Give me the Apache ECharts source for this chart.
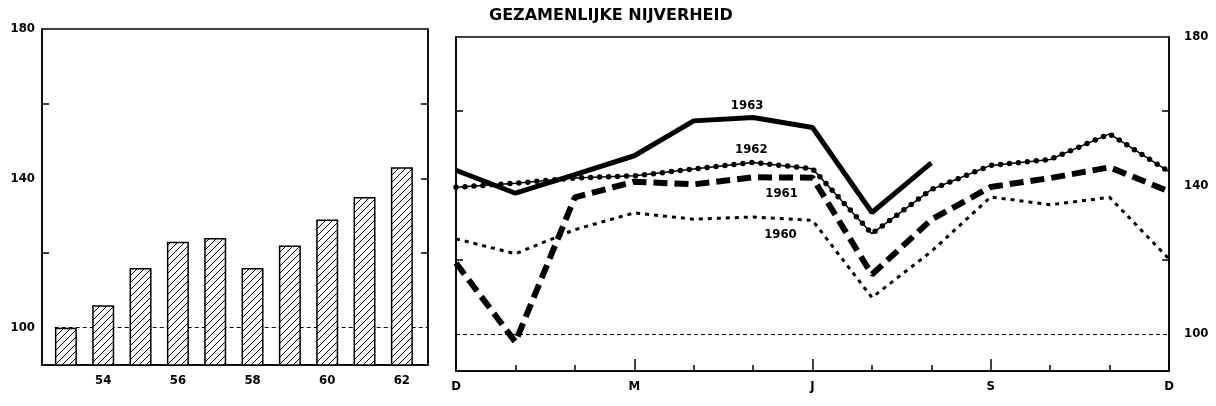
<!DOCTYPE html>
<html>
<head>
<meta charset="utf-8">
<script src="https://cdn.jsdelivr.net/npm/echarts@6/dist/echarts.min.js"></script>
<style>
html, body { margin: 0; background: #fff; }
#chart { width: 1216px; height: 406px; }
</style>
</head>
<body>
<div id="chart"></div>
<script>
// jaarindex (1953 = 100)
const years = [53, 54, 55, 56, 57, 58, 59, 60, 61, 62]
const yearIndex = [100, 106, 116, 123, 124, 116, 122, 129, 135, 143]
const yearTicks = [54, 56, 58, 60, 62]

// maandindex, december vorig jaar t/m december
const months = [0, 1, 2, 3, 4, 5, 6, 7, 8, 9, 10, 11, 12]
const monthTicks = ['D', '', '', 'M', '', '', 'J', '', '', 'S', '', '', 'D']
const s1960 = [125.6, 121.6, 128.1, 132.6, 130.9, 131.5, 130.6, 109.8, 122.2, 136.9, 134.8, 136.8, 120.2]
const s1961 = [119.1, 97.8, 136.8, 141.0, 140.3, 142.2, 142.1, 116.0, 130.8, 139.6, 142.0, 144.9, 138.4]
const s1962 = [139.5, 140.6, 142.0, 142.6, 144.4, 146.2, 144.5, 127.0, 138.9, 145.4, 147.0, 153.9, 143.7]
const s1963 = [144.1, 137.9, 142.9, 148.0, 157.4, 158.3, 155.6, 132.7, 146.1]

const indexTicks = [100, 140, 180]
const minorIndexTicks = [120, 160]

const font = 'DejaVu Sans Condensed'
const black = '#000'

// arcering voor de staven
function hatch() {
  const c = document.createElement('canvas')
  c.width = 7
  c.height = 7
  const g = c.getContext('2d')
  g.fillStyle = '#fff'
  g.fillRect(0, 0, 7, 7)
  g.strokeStyle = '#000'
  g.lineWidth = 1
  g.beginPath()
  g.moveTo(-1, 8); g.lineTo(8, -1)
  g.moveTo(-1, 1); g.lineTo(1, -1)
  g.moveTo(6, 8); g.lineTo(8, 6)
  g.stroke()
  return c
}

const pair = (arr) => arr.map((v, i) => [months[i], v])
const labelStyle = { color: black, fontFamily: font, fontWeight: 'bold', fontSize: 13 }

function yearLabel(name, x, y) {
  return {
    symbol: 'circle',
    symbolSize: 0,
    silent: true,
    label: { show: true, position: 'inside', formatter: '{b}', ...labelStyle },
    data: [{ name, coord: [x, y] }],
  }
}

const chart = echarts.init(document.getElementById('chart'))

chart.setOption({
  animation: false,
  backgroundColor: '#fff',
  title: {
    text: 'GEZAMENLIJKE NIJVERHEID',
    left: 484,
    top: 3,
    textStyle: { color: black, fontFamily: 'DejaVu Sans', fontWeight: 'bold', fontSize: 16 },
  },
  grid: [
    { left: 42, right: 788, top: 29, bottom: 41, show: true, borderColor: black, borderWidth: 1.5 },
    { left: 456, right: 47, top: 37, bottom: 35, show: true, borderColor: black, borderWidth: 1.5 },
  ],
  xAxis: [
    {
      type: 'value', gridIndex: 0, min: 52.36, max: 62.7,
      axisLine: { lineStyle: { color: black, width: 1.5 } },
      axisTick: { show: false },
      splitLine: { show: false },
      axisLabel: { customValues: yearTicks, margin: 9, ...labelStyle },
    },
    {
      type: 'value', gridIndex: 1, min: 0, max: 12, interval: 3,
      axisLine: { lineStyle: { color: black, width: 1.5 } },
      axisTick: { inside: true, length: 12, lineStyle: { color: black, width: 1.5 } },
      minorTick: { show: true, splitNumber: 3, length: 6, lineStyle: { color: black, width: 1.5 } },
      splitLine: { show: false },
      minorSplitLine: { show: false },
      axisLabel: { formatter: (v) => monthTicks[v], margin: 9, ...labelStyle },
    },
  ],
  yAxis: [
    {
      type: 'value', gridIndex: 0, position: 'left', min: 90, max: 180,
      axisLine: { show: true, lineStyle: { color: black, width: 1.5 } },
      axisTick: { customValues: minorIndexTicks, inside: true, length: 7, lineStyle: { color: black, width: 1.5 } },
      splitLine: { show: false },
      axisLabel: { customValues: indexTicks, margin: 7, ...labelStyle },
    },
    {
      type: 'value', gridIndex: 0, position: 'right', min: 90, max: 180,
      axisLine: { show: true, lineStyle: { color: black, width: 1.5 } },
      axisTick: { customValues: [120, 140, 160], inside: true, length: 7, lineStyle: { color: black, width: 1.5 } },
      splitLine: { show: false },
      axisLabel: { show: false },
    },
    {
      type: 'value', gridIndex: 1, position: 'left', min: 90, max: 180,
      axisLine: { show: true, lineStyle: { color: black, width: 1.5 } },
      axisTick: { customValues: minorIndexTicks, inside: true, length: 7, lineStyle: { color: black, width: 1.5 } },
      splitLine: { show: false },
      axisLabel: { show: false },
    },
    {
      type: 'value', gridIndex: 1, position: 'right', min: 90, max: 180,
      axisLine: { show: true, lineStyle: { color: black, width: 1.5 } },
      axisTick: { customValues: minorIndexTicks, inside: true, length: 7, lineStyle: { color: black, width: 1.5 } },
      splitLine: { show: false },
      axisLabel: { customValues: indexTicks, margin: 15, ...labelStyle },
    },
  ],
  series: [
    {
      type: 'bar', xAxisIndex: 0, yAxisIndex: 0,
      data: years.map((y, i) => [y, yearIndex[i]]),
      barWidth: 22,
      itemStyle: { color: { image: hatch(), repeat: 'repeat' }, borderColor: black, borderWidth: 1.5 },
      markLine: {
        z: 1, silent: true, symbol: 'none', label: { show: false },
        lineStyle: { color: black, width: 1, type: [4, 3] },
        data: [[{ coord: [52.7, 100] }, { coord: [62.7, 100] }]],
      },
    },
    {
      name: '1960', type: 'line', xAxisIndex: 1, yAxisIndex: 2,
      data: pair(s1960), symbol: 'none',
      lineStyle: { color: black, width: 3, type: [4, 5] },
      markLine: {
        silent: true, symbol: 'none', label: { show: false },
        lineStyle: { color: black, width: 1, type: [4, 3] },
        data: [{ yAxis: 100 }],
      },
      markPoint: yearLabel('1960', 5.46, 126.7),
    },
    {
      name: '1961', type: 'line', xAxisIndex: 1, yAxisIndex: 2,
      data: pair(s1961), symbol: 'none',
      lineStyle: { color: black, width: 6, type: [14, 7] },
      markPoint: yearLabel('1961', 5.48, 137.8),
    },
    {
      name: '1962', type: 'line', xAxisIndex: 1, yAxisIndex: 2,
      data: pair(s1962), symbol: 'none',
      lineStyle: { color: black, width: 1.5 },
      markPoint: yearLabel('1962', 4.97, 149.7),
    },
    {
      name: '1962', type: 'line', xAxisIndex: 1, yAxisIndex: 2,
      data: pair(s1962), symbol: 'none',
      lineStyle: { color: black, width: 5.5, type: [0, 9], cap: 'round' },
    },
    {
      name: '1963', type: 'line', xAxisIndex: 1, yAxisIndex: 2,
      data: pair(s1963), symbol: 'none',
      lineStyle: { color: black, width: 5 },
      markPoint: yearLabel('1963', 4.9, 161.6),
    },
  ],
})
</script>
</body>
</html>
